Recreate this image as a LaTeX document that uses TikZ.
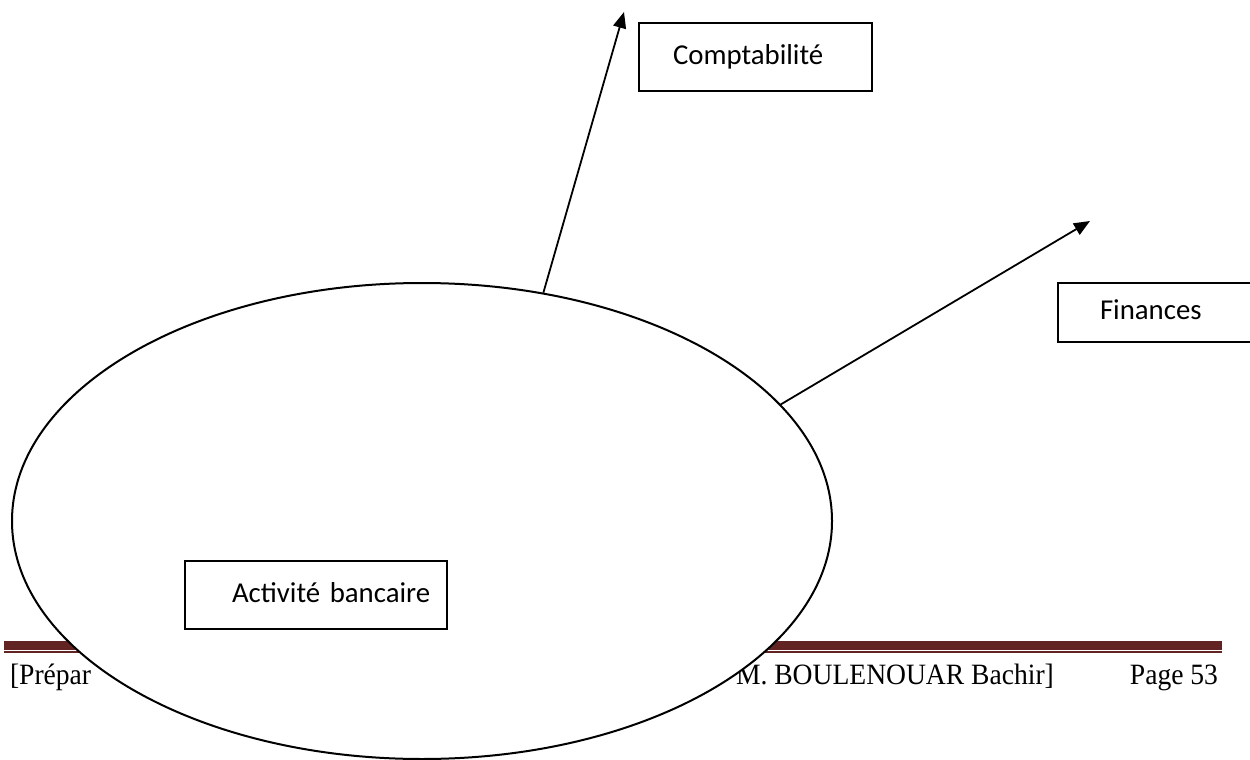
\documentclass[tikz,border=0pt]{standalone}
\usepackage{fontspec}
\setmainfont{Liberation Serif}
\newfontfamily\boxfont{Carlito}
\usetikzlibrary{shapes.geometric,arrows.meta}
\definecolor{footred}{HTML}{622423}
\newcommand{\foottxt}[1]{\scalebox{0.935}[1]{#1}}
\begin{document}
\begin{tikzpicture}[x=1pt,y=-1pt,
  textbox/.style={draw=black, line width=2.2pt, fill=white, anchor=north west,
    font=\boxfont\fontsize{28.8}{34}\selectfont, align=left,
    text height=20pt, text depth=6pt, inner sep=0pt, outer sep=0pt},
  footer/.style={font=\fontsize{29.5}{34}\selectfont, inner sep=0pt, outer sep=0pt},
  link/.style={line width=1.8pt, -{Triangle[length=16pt,width=13pt]}}]
\useasboundingbox (0,0) rectangle (1250,760);
\clip (0,0) rectangle (1250,760);
% footer rule
\fill[footred] (4,641) rectangle (1222,649.5);
\fill[footred] (4,651) rectangle (1222,653);
% footer texts
\node[footer, anchor=base west] (f1) at (10,684) {\foottxt{[Prépar}};
\node[footer, anchor=base west] (f2) at (736,684) {\foottxt{M. BOULENOUAR Bachir]}};
\node[footer, anchor=base east] (f3) at (1218,684) {\foottxt{Page 53}};
% ellipse
\node[ellipse, draw=black, line width=2pt, fill=white, minimum width=820pt,
  minimum height=476pt, inner sep=0pt] (bank) at (422,521) {};
% boxes
\node[textbox, minimum width=233pt, minimum height=68pt,
  text width=233pt] (compta) at (639,23) {\hspace*{34pt}\mbox{Comptabilité}};
\node[textbox, minimum width=210pt, minimum height=59pt,
  text width=210pt] (fin) at (1058,283) {\hspace*{42pt}\mbox{Finances}};
\node[textbox, minimum width=262pt, minimum height=68pt,
  text width=262pt] (act) at (185,561) {\hspace*{47pt}\mbox{Activité bancaire}};
% arrows
\coordinate (t1) at (624,12);
\coordinate (t2) at (1090,221);
\draw[link] (bank.62) -- (t1);
\draw[link] (bank.18.1) -- (t2);
\end{tikzpicture}
\end{document}
